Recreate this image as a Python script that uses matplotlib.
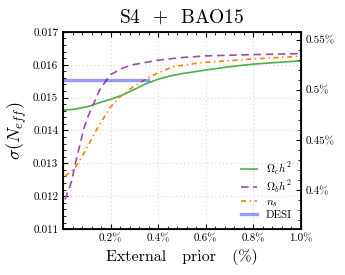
#!/usr/bin/env python3
import numpy as np
import matplotlib
matplotlib.use('Agg')
import matplotlib.pyplot as plt
from matplotlib.ticker import AutoMinorLocator, FormatStrFormatter, FuncFormatter

plt.rcParams['font.family'] = 'serif'
plt.rcParams['font.serif'] = ['cmr10']
plt.rcParams['mathtext.fontset'] = 'cm'
plt.rcParams['axes.formatter.use_mathtext'] = True

NEFF = 3.046

# prior in %, sigma(N_eff)
x_c = [0.005, 0.05, 0.1, 0.15, 0.2, 0.25, 0.3, 0.35, 0.4, 0.45, 0.5, 0.6, 0.7, 0.8, 0.9, 1.0]
s_c = [0.01462, 0.01465, 0.01472, 0.01484, 0.01495, 0.01508, 0.01525, 0.01543,
       0.01556, 0.01566, 0.01573, 0.01584, 0.01594, 0.01602, 0.01607, 0.01612]

x_b = [0.008, 0.035, 0.053, 0.07, 0.085, 0.1, 0.12, 0.155, 0.183, 0.2, 0.25,
       0.3, 0.4, 0.5, 0.6, 0.75, 1.0]
s_b = [0.0119, 0.01244, 0.01305, 0.01355, 0.0140, 0.01435, 0.01468, 0.01525,
       0.01554, 0.0157, 0.0159, 0.01601, 0.01614, 0.01622, 0.01627, 0.0163, 0.01634]

x_ns = [0.008, 0.046, 0.069, 0.088, 0.11, 0.128, 0.147, 0.2, 0.24, 0.295, 0.366,
        0.46, 0.575, 0.785, 0.855, 1.0]
s_ns = [0.01261, 0.01282, 0.01308, 0.01332, 0.01361, 0.01386, 0.01411, 0.01472,
        0.01503, 0.01533, 0.01564, 0.01594, 0.01606, 0.01617, 0.0162, 0.01626]

desi_x = [0.0, 0.356]
desi_s = 0.01553

fig = plt.figure(figsize=(3.45, 2.75), dpi=100)
ax = fig.add_axes([0.183, 0.167, 0.689, 0.717])

ax.plot(x_c, s_c, color='#4daf4a', lw=1.2, label=r'$\Omega_c h^2$')
ax.plot(x_b, s_b, color='#984ea3', lw=1.2, dashes=(4.5, 2.8), label=r'$\Omega_b h^2$')
ax.plot(x_ns, s_ns, color='#ff7f00', lw=1.2, dashes=(3, 2.2, 0.8, 2.2), label=r'$n_s$')
ax.plot(desi_x, [desi_s, desi_s], color='blue', alpha=0.4, lw=2.4, label='DESI')

ax.set_xlim(0, 1.0)
ax.set_ylim(0.011, 0.017)
ax.set_xticks([0.2, 0.4, 0.6, 0.8, 1.0])
ax.xaxis.set_major_formatter(FormatStrFormatter('%.1f%%'))
ax.yaxis.set_major_formatter(FormatStrFormatter('%.3f'))
ax.xaxis.set_minor_locator(AutoMinorLocator(5))
ax.yaxis.set_minor_locator(AutoMinorLocator(5))
ax.tick_params(which='both', direction='in', top=True, labelsize=8)
ax.tick_params(which='major', length=3.5)
ax.tick_params(which='minor', length=2)
ax.grid(True, which='major', ls=(0, (1, 3)), color='#cccccc', lw=0.7)
for s in ax.spines.values():
    s.set_linewidth(1.3)

ax2 = ax.twinx()
ax2.set_ylim(0.011 / NEFF * 100, 0.017 / NEFF * 100)
ax2.set_yticks([0.40, 0.45, 0.50, 0.55])
ax2.yaxis.set_major_formatter(FuncFormatter(lambda v, p: '%g%%' % round(v, 2)))
ax2.yaxis.set_minor_locator(AutoMinorLocator(5))
ax2.tick_params(which='both', direction='in', labelsize=8)
ax2.tick_params(which='major', length=3.5)
ax2.tick_params(which='minor', length=2)

ax.set_title(r'S4  $+$  BAO15', fontsize=14, pad=7)
ax.set_xlabel('External   prior   (%)', fontsize=11.5)
ax.set_ylabel(r'$\sigma(N_{eff})$', fontsize=13, labelpad=3)
ax.legend(loc='lower right', frameon=False, fontsize=8, handlelength=1.4,
          borderaxespad=0.4, labelspacing=0.15)

fig.savefig('out.png', dpi=100)
